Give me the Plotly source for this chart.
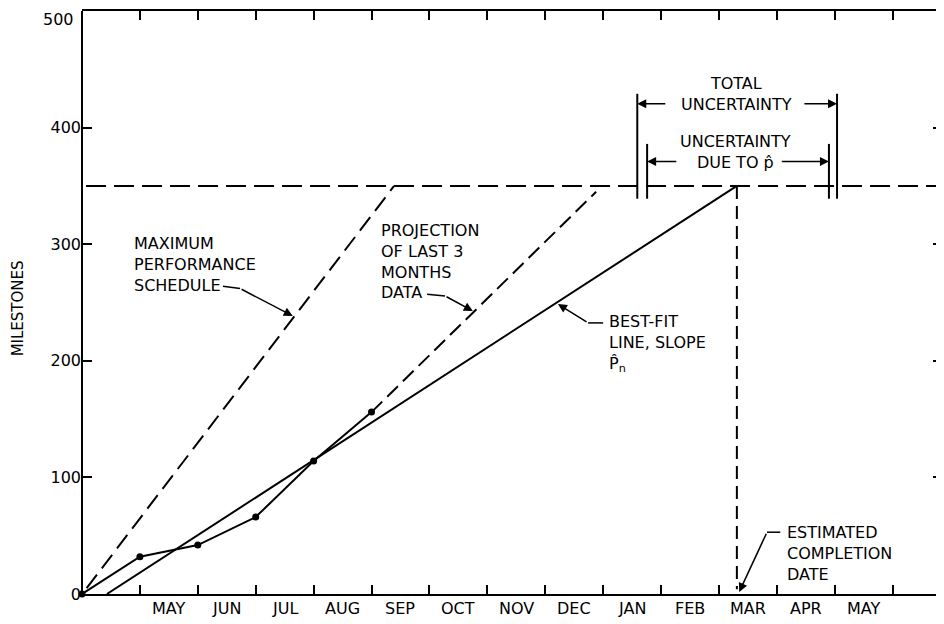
import plotly.graph_objects as go

# ---------------- data ----------------
month_labels = ["MAY", "JUN", "JUL", "AUG", "SEP", "OCT", "NOV", "DEC",
                "JAN", "FEB", "MAR", "APR", "MAY"]
label_positions = [1.5, 2.5, 3.5, 4.5, 5.5, 6.5, 7.5, 8.5, 9.5, 10.5, 11.5, 12.5, 13.5]
month_ticks = list(range(0, 15))
y_ticks = [0, 100, 200, 300, 400]
y_top_label = 500

actual_months = [0, 1, 2, 3, 4, 5]
actual_milestones = [0, 32, 42, 66, 114, 156]

best_fit_x = [0.43, 11.31]
best_fit_y = [0, 350]

max_perf_x = [0.08, 5.39]
max_perf_y = [5, 350]

projection_x = [5.0, 8.88]
projection_y = [156, 345]

target_milestones = 350
completion_month = 11.31

total_unc = [9.59, 13.04]      # x bounds of total uncertainty
total_unc_y = [339, 429]
phat_unc = [9.76, 12.9]        # x bounds of uncertainty due to p-hat
phat_unc_y = [339, 386]

x_range = [0, 14.87]
y_range = [0, 500]

FONT = "DejaVu Sans"
BLK = "black"

fig = go.Figure()

# target line (350)
fig.add_trace(go.Scatter(x=[0.07, x_range[1]], y=[target_milestones] * 2, mode="lines",
                         line=dict(color=BLK, width=2, dash="20px,8px"), hoverinfo="skip"))
# max performance schedule
fig.add_trace(go.Scatter(x=max_perf_x, y=max_perf_y, mode="lines",
                         line=dict(color=BLK, width=2, dash="17px,8px"), hoverinfo="skip"))
# projection of last 3 months
fig.add_trace(go.Scatter(x=projection_x, y=projection_y, mode="lines",
                         line=dict(color=BLK, width=2, dash="15px,7px"), hoverinfo="skip"))
# best-fit line
fig.add_trace(go.Scatter(x=best_fit_x, y=best_fit_y, mode="lines",
                         line=dict(color=BLK, width=2), hoverinfo="skip"))
# completion vertical
fig.add_trace(go.Scatter(x=[completion_month, completion_month], y=[target_milestones, 4],
                         mode="lines", line=dict(color=BLK, width=2, dash="13px,7px"),
                         hoverinfo="skip"))
# actual data
fig.add_trace(go.Scatter(x=actual_months, y=actual_milestones, mode="lines+markers",
                         line=dict(color=BLK, width=2), marker=dict(color=BLK, size=7),
                         cliponaxis=False, hoverinfo="skip"))
# uncertainty bracket lines
for xb, yb in ((total_unc, total_unc_y), (phat_unc, phat_unc_y)):
    for xv in xb:
        fig.add_trace(go.Scatter(x=[xv, xv], y=yb, mode="lines",
                                 line=dict(color=BLK, width=2), hoverinfo="skip"))

ann = []
def text(x, y, t, xanchor="left", align="left", size=16):
    ann.append(dict(x=x, y=y, xref="x", yref="y", text=t, showarrow=False,
                    xanchor=xanchor, yanchor="middle", align=align,
                    font=dict(family=FONT, size=size, color=BLK)))

def arrow(tip, tail):
    ann.append(dict(x=tip[0], y=tip[1], ax=tail[0], ay=tail[1], xref="x", yref="y",
                    axref="x", ayref="y", text="", showarrow=True, arrowhead=2,
                    arrowsize=1.2, arrowwidth=1.5, arrowcolor=BLK, standoff=0,
                    startstandoff=0))

shapes = []
def seg(p, q):
    shapes.append(dict(type="line", xref="x", yref="y", x0=p[0], y0=p[1], x1=q[0], y1=q[1],
                       line=dict(color=BLK, width=1.5)))

# left spine (the right side carries ticks only)
shapes.append(dict(type="line", xref="paper", yref="paper", x0=0, x1=0, y0=0, y1=1,
                   line=dict(color=BLK, width=2)))

text(0.864, 282.5, "MAXIMUM<br>PERFORMANCE<br>SCHEDULE")
seg((2.435, 264), (2.73, 262))
arrow((3.64, 238.5), (2.73, 262))

text(5.13, 285, "PROJECTION<br>OF LAST 3<br>MONTHS<br>DATA")
seg((5.96, 257), (6.27, 255.6))
arrow((6.75, 242.7), (6.27, 255.6))

text(9.07, 214.5, "BEST-FIT<br>LINE, SLOPE<br>P\u0302<sub>n</sub>")
seg((9.0, 232.5), (8.74, 232.5))
arrow((8.22, 248.7), (8.74, 232.5))

text(12.14, 35, "ESTIMATED<br>COMPLETION<br>DATE")
seg((12.06, 53), (11.83, 53))
arrow((11.35, 1.7), (11.83, 53))

text(11.31, 428.6, "TOTAL<br>UNCERTAINTY", xanchor="center", align="center")
arrow((9.59, 420.5), (10.10, 420.5))
arrow((13.04, 420.5), (12.45, 420.5))

text(11.28, 379.5, "UNCERTAINTY<br>DUE TO p\u0302", xanchor="center", align="center")
arrow((9.76, 371), (10.29, 371))
arrow((12.9, 371), (12.06, 371))

# month labels, centred between the month ticks
for pos, lab in zip(label_positions, month_labels):
    ann.append(dict(x=pos, y=0, xref="x", yref="y", text=lab, showarrow=False,
                    xanchor="center", yanchor="middle", yshift=-14,
                    font=dict(family=FONT, size=16, color=BLK)))

# top y label (shifted down as in the original)
ann.append(dict(x=0, y=y_top_label, xref="paper", yref="y", text=str(y_top_label),
                showarrow=False, xanchor="right", yanchor="middle", xshift=-6, yshift=-8,
                font=dict(family=FONT, size=16, color=BLK)))

ann.append(dict(x=-0.0743, y=0.49, xref="paper", yref="paper", text="MILESTONES",
                showarrow=False, textangle=-90, xanchor="center", yanchor="middle",
                font=dict(family=FONT, size=15, color=BLK)))

fig.update_layout(
    width=936, height=616,
    margin=dict(l=74, r=1, t=1, b=30),
    plot_bgcolor="white", paper_bgcolor="white",
    showlegend=False,
    font=dict(family=FONT, size=16, color=BLK),
    annotations=ann, shapes=shapes,
    xaxis=dict(range=x_range, tickmode="array", tickvals=month_ticks,
               ticktext=[""] * len(month_ticks), ticks="inside", ticklen=9,
               tickwidth=2, tickcolor=BLK, showline=True, linecolor=BLK,
               linewidth=2, showgrid=False, zeroline=False, mirror="ticks"),
    yaxis=dict(range=y_range, tickmode="array", tickvals=y_ticks, ticks="inside",
               ticklen=10, tickwidth=2, tickcolor=BLK, showline=False,
               mirror="ticks", showgrid=False, zeroline=False,
               tickfont=dict(family=FONT, size=16, color=BLK)),
)

fig.write_html("out.html")
